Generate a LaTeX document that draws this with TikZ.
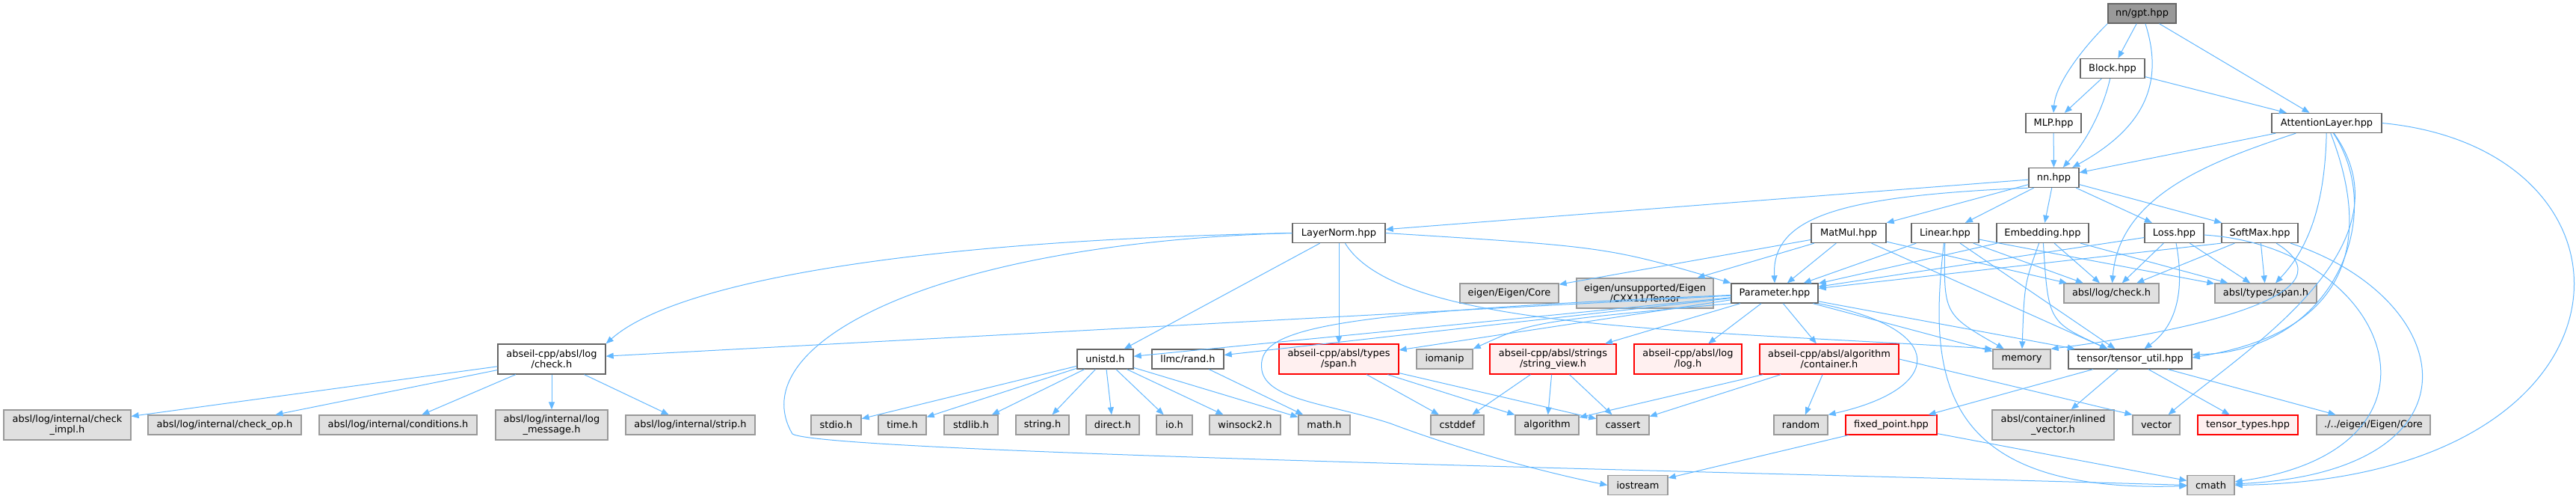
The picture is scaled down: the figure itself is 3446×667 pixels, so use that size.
\documentclass[tikz,border=0pt]{standalone}
\usepackage{fontspec}
\setmainfont{DejaVu Sans}
\usetikzlibrary{arrows.meta}
\definecolor{edgeblue}{RGB}{99, 184, 255}
\definecolor{boxline}{RGB}{102, 102, 102}
\definecolor{sysline}{RGB}{153, 153, 153}
\definecolor{sysfill}{RGB}{224, 224, 224}
\definecolor{cutline}{RGB}{255, 0, 0}
\definecolor{cutfill}{RGB}{255, 240, 240}
\definecolor{mainfill}{RGB}{153, 153, 153}

\begin{document}
\begin{tikzpicture}[x=0.75pt, y=-0.75pt,
    hfile/.style={draw=boxline, fill=white, line width=1pt, inner sep=0pt, minimum height=19.5pt, align=center, font=\fontsize{9.7}{10.8}\selectfont},
    sysfile/.style={hfile, draw=sysline, fill=sysfill},
    cutfile/.style={hfile, draw=cutline, fill=cutfill},
    topfile/.style={hfile, fill=mainfill},
    tall/.style={minimum height=30pt},
    incl/.style={draw=edgeblue, line width=0.75pt, -{Triangle[length=7.5pt, width=6pt]}}]
                \fill[white, use as bounding box] (0,0) rectangle (3446,667);

                % Top files
                \node[topfile, minimum width=68.25pt] (gpt) at (2865.5,18) {nn/gpt.hpp};
                \node[hfile, minimum width=64.5pt] (block) at (2826,91.5) {Block.hpp};
                \node[hfile, minimum width=55.5pt] (mlp) at (2747,164.5) {MLP.hpp};
                \node[hfile, minimum width=110.25pt] (attn) at (3112.5,164.5) {AttentionLayer.hpp};
                \node[hfile, minimum width=50.25pt] (nnh) at (2747.5,237.5) {nn.hpp};

                % Layers
                \node[hfile, minimum width=93pt] (layernorm) at (1791,311.5) {LayerNorm.hpp};
                \node[hfile, minimum width=75pt] (matmul) at (2473,311.5) {MatMul.hpp};
                \node[hfile, minimum width=67.5pt] (linear) at (2602,311.5) {Linear.hpp};
                \node[hfile, minimum width=92.25pt] (embedding) at (2732.5,311.5) {Embedding.hpp};
                \node[hfile, minimum width=59.25pt] (loss) at (2908.5,311.5) {Loss.hpp};
                \node[hfile, minimum width=76.5pt] (softmax) at (3023,311.5) {SoftMax.hpp};

                % Parameter row
                \node[sysfile, minimum width=99pt] (eigencore) at (2019,392) {eigen/Eigen/Core};
                \node[sysfile, tall, minimum width=137.25pt] (eigentensor) at (2200.5,392) {eigen/unsupported/Eigen\\/CXX11/Tensor};
                \node[hfile, minimum width=87pt] (param) at (2374,392) {Parameter.hpp};
                \node[sysfile, minimum width=95.25pt] (logcheck) at (2824.5,392) {absl/log/check.h};
                \node[sysfile, minimum width=102pt] (typespan) at (3031,392) {absl/types/span.h};

                % Includes of Parameter
                \node[hfile, tall, minimum width=108pt] (abslcheck) at (738,480) {abseil-cpp/absl/log\\/check.h};
                \node[hfile, minimum width=56.25pt] (unistd) at (1478.5,480) {unistd.h};
                \node[hfile, minimum width=72pt] (llmcrand) at (1589,480) {llmc/rand.h};
                \node[cutfile, tall, minimum width=120pt] (abslspan) at (1791,480) {abseil-cpp/absl/types\\/span.h};
                \node[sysfile, minimum width=56.25pt] (iomanip) at (1932.5,480) {iomanip};
                \node[cutfile, tall, minimum width=126.75pt] (strview) at (2077.5,480) {abseil-cpp/absl/strings\\/string\_view.h};
                \node[cutfile, tall, minimum width=108pt] (absllog) at (2258,480) {abseil-cpp/absl/log\\/log.h};
                \node[cutfile, tall, minimum width=139.5pt] (abslcontainer) at (2447,480) {abseil-cpp/absl/algorithm\\/container.h};
                \node[sysfile, minimum width=57.75pt] (memory) at (2704.5,480) {memory};
                \node[hfile, minimum width=123.75pt] (tutil) at (2849.5,480) {tensor/tensor\_util.hpp};

                % System headers
                \node[sysfile, tall, minimum width=127.5pt] (checkimpl) at (90,568) {absl/log/internal/check\\\_impl.h};
                \node[sysfile, minimum width=153.75pt] (checkop) at (300.5,568) {absl/log/internal/check\_op.h};
                \node[sysfile, minimum width=158.25pt] (conditions) at (532.5,568) {absl/log/internal/conditions.h};
                \node[sysfile, tall, minimum width=112.5pt] (logmessage) at (738,568) {absl/log/internal/log\\\_message.h};
                \node[sysfile, minimum width=129.75pt] (strip) at (923.5,568) {absl/log/internal/strip.h};
                \node[sysfile, minimum width=50.25pt] (stdio) at (1118.5,568) {stdio.h};
                \node[sysfile, minimum width=48pt] (timeh) at (1207,568) {time.h};
                \node[sysfile, minimum width=54pt] (stdlib) at (1299,568) {stdlib.h};
                \node[sysfile, minimum width=53.25pt] (stringh) at (1394.5,568) {string.h};
                \node[sysfile, minimum width=53.25pt] (direct) at (1488.5,568) {direct.h};
                \node[sysfile, minimum width=36pt] (ioh) at (1571,568) {io.h};
                \node[sysfile, minimum width=71.25pt] (winsock) at (1665.5,568) {winsock2.h};
                \node[sysfile, minimum width=51.75pt] (mathh) at (1771.5,568) {math.h};
                \node[sysfile, minimum width=53.25pt] (cstddef) at (1949.5,568) {cstddef};
                \node[sysfile, minimum width=63.75pt] (algorithm) at (2069.5,568) {algorithm};
                \node[sysfile, minimum width=52.5pt] (cassert) at (2171,568) {cassert};
                \node[sysfile, minimum width=54pt] (random) at (2409,568) {random};
                \node[cutfile, minimum width=91.5pt] (fixedpoint) at (2530,568) {fixed\_point.hpp};
                \node[sysfile, tall, minimum width=122.25pt] (inlinedvec) at (2746.5,568) {absl/container/inlined\\\_vector.h};
                \node[sysfile, minimum width=47.25pt] (vector) at (2884.5,568) {vector};
                \node[cutfile, minimum width=100.5pt] (tensortypes) at (3007,568) {tensor\_types.hpp};
                \node[sysfile, minimum width=114pt] (eigenrel) at (3175,568) {./../eigen/Eigen/Core};
                \node[sysfile, minimum width=60pt] (iostream) at (2191,648.5) {iostream};
                \node[sysfile, minimum width=47.25pt] (cmath) at (2957.5,648.5) {cmath};

                % gpt, Block, MLP
                \draw[incl] (gpt) -- (block);
                \draw[incl] (gpt.south west) .. controls (2790,60) and (2750,110) .. (mlp.north);
                \draw[incl] (gpt) .. controls (2895,110) and (2870,170) .. (nnh);
                \draw[incl] (gpt) -- (attn);
                \draw[incl] (block) -- (mlp);
                \draw[incl] (block) .. controls (2812,150) and (2790,190) .. (nnh);
                \draw[incl] (block) -- (attn);
                \draw[incl] (mlp) -- (nnh);

                % AttentionLayer
                \draw[incl] (attn) -- (nnh);
                \draw[incl] (attn) .. controls (2960,215) and (2835,260) .. (logcheck);
                \draw[incl] (attn) .. controls (3110,270) and (3090,330) .. (typespan);
                \draw[incl] (attn) .. controls (3165,300) and (3165,440) .. ([yshift=1.5pt]tutil.east);
                \draw[incl] (attn) .. controls (3195,290) and (3120,470) .. ([yshift=4.5pt]tutil.east);
                \draw[incl] (attn) .. controls (3230,330) and (3000,470) .. (vector);
                \draw[incl] (attn.east) .. controls (3560,200) and (3550,640) .. (cmath.east);

                % nn
                \draw[incl] (nnh) -- (layernorm);
                \draw[incl] (nnh) -- (matmul);
                \draw[incl] (nnh) -- (linear);
                \draw[incl] (nnh) -- (embedding);
                \draw[incl] (nnh) -- (loss);
                \draw[incl] (nnh) -- (softmax);
                \draw[incl] (nnh.south west) .. controls (2460,262) and (2370,290) .. (param.north);

                % LayerNorm
                \draw[incl] (layernorm.west) .. controls (1200,322) and (900,380) .. (abslcheck.north east);
                \draw[incl] (layernorm) -- (unistd);
                \draw[incl] (layernorm) -- (abslspan);
                \draw[incl] (layernorm.east) .. controls (2150,330) .. (param.north west);
                \draw[incl] (layernorm) .. controls (1870,440) and (2250,440) .. (memory.north west);
                \draw[incl] (layernorm.west) .. controls (1250,325) and (990,460) .. (1060,580)
                    .. controls (1100,605) and (2300,630) .. (cmath.west);

                % MatMul, Linear, Embedding
                \draw[incl] (matmul) -- (eigencore);
                \draw[incl] (matmul) -- (eigentensor);
                \draw[incl] (matmul) -- (param);
                \draw[incl] (matmul) -- (logcheck);
                \draw[incl] (matmul) -- (tutil);
                \draw[incl] (linear) -- (param);
                \draw[incl] (linear) -- (logcheck);
                \draw[incl] (linear) -- (typespan);
                \draw[incl] (linear) -- (tutil);
                \draw[incl] (linear) .. controls (2600,420) .. (memory);
                \draw[incl] (linear) .. controls (2580,500) and (2590,660) .. (cmath);
                \draw[incl] (embedding) -- (param);
                \draw[incl] (embedding) -- (logcheck);
                \draw[incl] (embedding) -- (typespan);
                \draw[incl] (embedding) .. controls (2708,380) .. (memory);
                \draw[incl] (embedding) .. controls (2740,430) .. (tutil);

                % Loss, SoftMax
                \draw[incl] (loss) -- (param);
                \draw[incl] (loss) -- (logcheck);
                \draw[incl] (loss) -- (typespan);
                \draw[incl] (loss) .. controls (2925,400) and (2905,440) .. (tutil);
                \draw[incl] (loss) .. controls (3200,330) and (3300,600) .. (cmath);
                \draw[incl] (softmax.south west) -- (param);
                \draw[incl] (softmax) -- (logcheck);
                \draw[incl] (softmax) -- (typespan);
                \draw[incl] (softmax) .. controls (3150,390) and (2950,440) .. (memory.north east);
                \draw[incl] (softmax) .. controls (3290,400) and (3330,630) .. (cmath);

                % Parameter
                \draw[incl] (param) -- (abslcheck);
                \draw[incl] (param) -- (unistd);
                \draw[incl] (param) -- (llmcrand);
                \draw[incl] (param) -- (abslspan);
                \draw[incl] (param.south west) .. controls (2050,430) .. (iomanip.north east);
                \draw[incl] (param) -- (strview);
                \draw[incl] (param) -- (absllog);
                \draw[incl] (param) -- (abslcontainer);
                \draw[incl] (param) -- (memory);
                \draw[incl] (param) -- (tutil);
                \draw[incl] (param.south east) .. controls (2610,440) and (2600,520) .. (random.north east);
                \draw[incl] (param) .. controls (1760,418) and (1680,440) .. (1688,495)
                    .. controls (1695,535) and (1780,540) .. (1860,566)
                    .. controls (1950,600) and (2060,630) .. (iostream.west);

                % abseil log check
                \draw[incl] (abslcheck) -- (checkimpl);
                \draw[incl] (abslcheck) -- (checkop);
                \draw[incl] (abslcheck) -- (conditions);
                \draw[incl] (abslcheck) -- (logmessage);
                \draw[incl] (abslcheck) -- (strip);

                % unistd and rand
                \draw[incl] (unistd) -- (stdio);
                \draw[incl] (unistd) -- (timeh);
                \draw[incl] (unistd) -- (stdlib);
                \draw[incl] (unistd) -- (stringh);
                \draw[incl] (unistd) -- (direct);
                \draw[incl] (unistd) -- (ioh);
                \draw[incl] (unistd) -- (winsock);
                \draw[incl] (unistd) -- (mathh);
                \draw[incl] (llmcrand) -- (mathh);

                % abseil span, string_view, container
                \draw[incl] (abslspan) -- (cstddef);
                \draw[incl] (abslspan) -- (algorithm);
                \draw[incl] (abslspan) -- (cassert);
                \draw[incl] (strview) -- (cstddef);
                \draw[incl] (strview) -- (algorithm);
                \draw[incl] (strview) -- (cassert);
                \draw[incl] (abslcontainer) -- (algorithm);
                \draw[incl] (abslcontainer) -- (cassert);
                \draw[incl] (abslcontainer) -- (random);
                \draw[incl] (abslcontainer.east) -- (vector.north west);

                % tensor_util and fixed_point
                \draw[incl] (tutil) -- (fixedpoint);
                \draw[incl] (tutil) -- (inlinedvec);
                \draw[incl] (tutil) -- (tensortypes);
                \draw[incl] (tutil) -- (eigenrel);
                \draw[incl] (fixedpoint) -- (iostream);
                \draw[incl] (fixedpoint) -- (cmath);
            \end{tikzpicture}
\end{document}
